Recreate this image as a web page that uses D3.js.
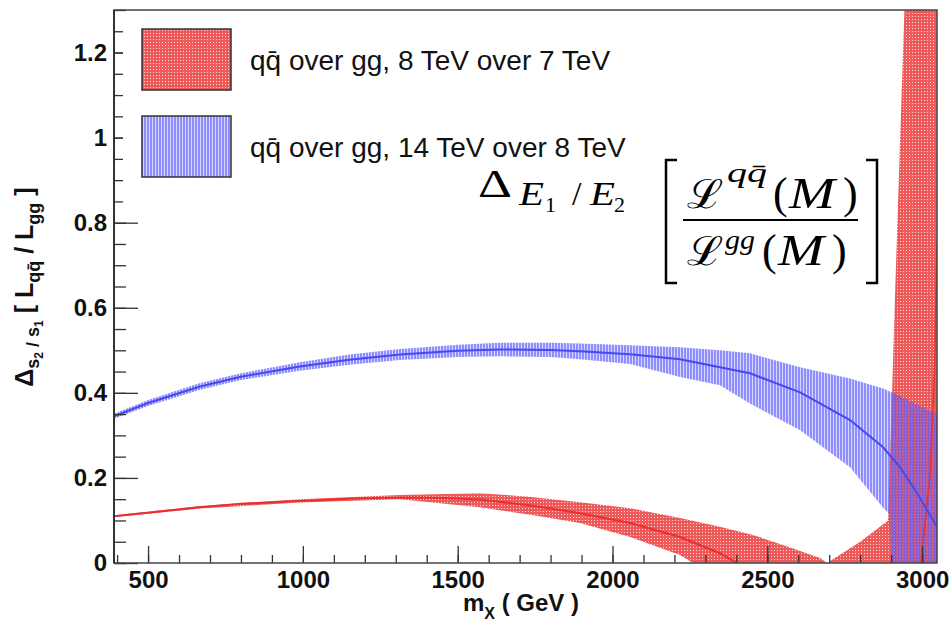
<!DOCTYPE html>
<html>
<head>
<meta charset="utf-8">
<script src="https://cdn.jsdelivr.net/npm/d3@7"></script>
<style>
  body { margin: 0; background: #fff; }
  svg { display: block; }
  text { font-family: "Liberation Sans", Arial, Helvetica, sans-serif; }
</style>
</head>
<body>
<svg id="chart"></svg>
<script>
// ---- data (mass in GeV, ratio values) ----
var blueMass    = [390, 500, 668, 800, 990, 1150, 1314, 1500, 1637, 1800, 1895, 2057, 2218, 2347, 2444, 2606, 2767, 2874, 2929, 2984, 3048]
var blueCentral = [0.345, 0.376, 0.415, 0.438, 0.462, 0.478, 0.490, 0.499, 0.502, 0.501, 0.498, 0.491, 0.479, 0.460, 0.446, 0.401, 0.336, 0.272, 0.225, 0.164, 0.085]
var blueUpper   = [0.351, 0.383, 0.423, 0.446, 0.472, 0.490, 0.503, 0.513, 0.518, 0.518, 0.516, 0.512, 0.507, 0.500, 0.493, 0.460, 0.434, 0.410, 0.392, 0.372, 0.350]
var blueLowerMass = [390, 500, 668, 800, 990, 1150, 1314, 1500, 1637, 1800, 1895, 2057, 2218, 2347, 2444, 2606, 2767, 2874, 2893, 2900, 3048]
var blueLower     = [0.339, 0.369, 0.407, 0.430, 0.452, 0.466, 0.477, 0.484, 0.486, 0.484, 0.479, 0.468, 0.437, 0.418, 0.375, 0.312, 0.225, 0.130, 0.115, 0.0, 0.0]

var redMass    = [390, 500, 668, 800, 990, 1150, 1314, 1450, 1572, 1730, 1895, 2057, 2218, 2347, 2402]
var redCentral = [0.110, 0.118, 0.131, 0.139, 0.146, 0.151, 0.154, 0.153, 0.149, 0.136, 0.117, 0.094, 0.061, 0.023, 0.0]
var redTailMass = [2995, 3025, 3040, 3048]
var redTail     = [0.0, 0.20, 0.45, 0.75]
var redUpperMass = [390, 668, 990, 1314, 1572, 1730, 1895, 2057, 2218, 2347, 2454, 2560, 2670, 2693, 2800, 2890, 2903, 2912, 2945, 3048]
var redUpper     = [0.112, 0.134, 0.150, 0.160, 0.164, 0.156, 0.143, 0.129, 0.106, 0.085, 0.066, 0.040, 0.012, 0.0, 0.05, 0.10, 0.40, 0.62, 1.35, 1.40]
var redLowerMass = [390, 668, 990, 1314, 1572, 1730, 1895, 2057, 2218, 2260, 3048]
var redLower     = [0.108, 0.128, 0.142, 0.150, 0.131, 0.114, 0.094, 0.061, 0.019, 0.0, 0.0]

var xMajorTicks = [500, 1000, 1500, 2000, 2500, 3000]
var yMajorTicks = [0, 0.2, 0.4, 0.6, 0.8, 1, 1.2]
var legendLabels = ['q\u0071\u0304 over gg, 8 TeV over 7 TeV', 'q\u0071\u0304 over gg, 14 TeV over 8 TeV']

var outerWidth = 950, outerHeight = 623
var margins = {top: 10, right: 13, bottom: 60, left: 114}
var innerWidth = outerWidth - margins.left - margins.right
var innerHeight = outerHeight - margins.top - margins.bottom

var svg = d3.select('svg#chart')
    .attr('width', outerWidth)
    .attr('height', outerHeight)

var defs = svg.append('defs')

// red dotted fill
var redPat = defs.append('pattern')
    .attr('id', 'redDots')
    .attr('patternUnits', 'userSpaceOnUse')
    .attr('width', 3).attr('height', 3)
redPat.append('rect').attr('width', 3).attr('height', 3).attr('fill', '#ee5a5a')
redPat.append('rect').attr('width', 1).attr('height', 1).attr('fill', '#fff').attr('opacity', 0.75)

// blue vertical hatch, semi transparent so red shows through as purple
var bluePat = defs.append('pattern')
    .attr('id', 'blueHatch')
    .attr('patternUnits', 'userSpaceOnUse')
    .attr('width', 3).attr('height', 3)
bluePat.append('rect').attr('width', 3).attr('height', 3).attr('fill', 'rgba(90,90,255,0.25)')
bluePat.append('rect').attr('width', 2).attr('height', 3).attr('fill', 'rgba(90,90,255,0.58)')

defs.append('clipPath').attr('id', 'plotClip')
    .append('rect').attr('width', innerWidth).attr('height', innerHeight)

var plot = svg.append('g')
    .attr('transform', 'translate(' + margins.left + ',' + margins.top + ')')

var xScale = d3.scaleLinear().domain([390, 3048]).range([0, innerWidth])
var yScale = d3.scaleLinear().domain([0, 1.3]).range([innerHeight, 0])

function zipPts(xs, ys) { return xs.map(function(x, i) { return [x, ys[i]] }) }

var line = d3.line()
    .x(function(d) { return xScale(d[0]) })
    .y(function(d) { return yScale(d[1]) })

function bandPath(upX, upY, loX, loY) {
    var pts = zipPts(upX, upY).concat(zipPts(loX, loY).reverse())
    return line(pts) + 'Z'
}

var marks = plot.append('g').attr('clip-path', 'url(#plotClip)')

marks.append('path')
    .attr('d', bandPath(redUpperMass, redUpper, redLowerMass, redLower))
    .attr('fill', 'url(#redDots)')

marks.append('path')
    .attr('d', bandPath(blueMass, blueUpper, blueLowerMass, blueLower))
    .attr('fill', 'url(#blueHatch)')

marks.append('path')
    .attr('d', line(zipPts(redMass, redCentral)))
    .attr('fill', 'none').attr('stroke', '#e83030').attr('stroke-width', 2)
marks.append('path')
    .attr('d', line(zipPts(redTailMass, redTail)))
    .attr('fill', 'none').attr('stroke', '#e83030').attr('stroke-width', 1.5)
marks.append('path')
    .attr('d', line(zipPts(blueMass, blueCentral)))
    .attr('fill', 'none').attr('stroke', '#4848f0').attr('stroke-width', 2)

// ---- axes (ticks pointing inward) ----
var yMinor = plot.append('g')
    .call(d3.axisLeft(yScale).tickValues(d3.range(0, 1.3001, 0.05)).tickSize(-12).tickFormat(''))
var yMajor = plot.append('g')
    .call(d3.axisLeft(yScale).tickValues(yMajorTicks).tickSize(-24).tickPadding(7)
        .tickFormat(function(d) { return d === 0 ? '0' : d === 1 ? '1' : d3.format('.1f')(d) }))
var xMinor = plot.append('g')
    .attr('transform', 'translate(0,' + innerHeight + ')')
    .call(d3.axisBottom(xScale).tickValues(d3.range(400, 3001, 100)).tickSize(-8).tickFormat(''))
var xMajor = plot.append('g')
    .attr('transform', 'translate(0,' + innerHeight + ')')
    .call(d3.axisBottom(xScale).tickValues(xMajorTicks).tickSize(-17).tickPadding(8).tickFormat(d3.format('d')))

;[yMinor, yMajor, xMinor, xMajor].forEach(function(g) {
    g.select('.domain').remove()
    g.selectAll('line').attr('stroke', '#333').attr('stroke-width', 1.3)
    g.selectAll('text').attr('font-size', 24).attr('font-weight', 'bold').attr('fill', '#111')
        .style('font-family', '"Liberation Sans", Arial, sans-serif')
})

// ---- legend (white box covers the upper tick ends) ----
var legend = svg.append('g')
legend.append('rect')
    .attr('x', 123).attr('y', 12).attr('width', 530).attr('height', 196)
    .attr('fill', '#fff')
var legendFills = ['url(#redDots)', 'url(#blueHatch)']
legendLabels.forEach(function(lbl, i) {
    legend.append('rect')
        .attr('x', 142).attr('y', 29 + i * 87).attr('width', 89).attr('height', 61)
        .attr('fill', legendFills[i]).attr('stroke', '#333').attr('stroke-width', 1.5)
    legend.append('text')
        .attr('x', 250).attr('y', 70 + i * 87)
        .attr('font-size', 28).attr('fill', '#111')
        .text(lbl)
})

// frame
plot.append('rect')
    .attr('width', innerWidth).attr('height', innerHeight)
    .attr('fill', 'none').attr('stroke', '#444').attr('stroke-width', 1.5)
plot.append('line')
    .attr('x1', 0).attr('x2', 0).attr('y1', 0).attr('y2', innerHeight)
    .attr('stroke', '#333').attr('stroke-width', 2)

// rich text helper: pieces of [text, size, baseline shift]
function richText(sel, pieces) {
    var prev = 0
    pieces.forEach(function(p) {
        sel.append('tspan')
            .attr('font-size', p[1])
            .attr('dy', p[2] - prev)
            .text(p[0])
        prev = p[2]
    })
}

// axis titles
var xTitle = svg.append('text')
    .attr('x', 463).attr('y', 611)
    .attr('font-weight', 'bold').attr('fill', '#111')
richText(xTitle, [['m', 24, 0], ['X', 16, 8], [' ( GeV )', 24, 0]])

var yTitle = svg.append('text')
    .attr('transform', 'translate(33,287) rotate(-90)')
    .attr('text-anchor', 'middle')
    .attr('font-weight', 'bold').attr('fill', '#111')
richText(yTitle, [
    ['\u0394', 25, 0], ['s', 18, 6], ['2', 12, 10], [' / ', 18, 6], ['s', 18, 6], ['1', 12, 10],
    [' [ L', 25, 0], ['q\u0071\u0304', 18, 7], [' / L', 25, 0], ['gg', 18, 7], [' ]', 25, 0]
])

// ---- formula annotation ----
var fml = svg.append('g').attr('fill', '#000')
function mathPiece(x, y, size, txt, width, italic, family) {
    var t = fml.append('text')
        .attr('x', x).attr('y', y)
        .attr('font-size', size)
        .attr('font-style', italic ? 'italic' : 'normal')
        .style('font-family', family || '"Liberation Serif", "DejaVu Serif", serif')
        .text(txt)
    if (width) t.attr('textLength', width).attr('lengthAdjust', 'spacingAndGlyphs')
}
mathPiece(478, 197, 41, '\u0394', 34, false)
mathPiece(519, 205, 34, 'E', 25, true)
mathPiece(545, 212, 22, '1', null, false)
mathPiece(572, 205, 34, '/', null, false)
mathPiece(590, 205, 34, 'E', 25, true)
mathPiece(614, 212, 22, '2', null, false)

mathPiece(687, 208, 40, '\u2112', 36, false, '"DejaVu Serif", serif')
mathPiece(727, 182, 27, 'q\u0071\u0304', 40, true)
mathPiece(773, 208, 44, '(', null, false)
mathPiece(789, 208, 44, 'M', 46, true)
mathPiece(843, 208, 44, ')', null, false)

mathPiece(687, 265, 40, '\u2112', 36, false, '"DejaVu Serif", serif')
mathPiece(725, 249, 27, 'gg', 30, true)
mathPiece(762, 265, 44, '(', null, false)
mathPiece(778, 265, 44, 'M', 46, true)
mathPiece(832, 265, 44, ')', null, false)

fml.append('line').attr('x1', 683).attr('x2', 858).attr('y1', 220).attr('y2', 220)
    .attr('stroke', '#000').attr('stroke-width', 2)
fml.append('path').attr('d', 'M677,160 H666 V283 H677')
    .attr('fill', 'none').attr('stroke', '#000').attr('stroke-width', 2.5)
fml.append('path').attr('d', 'M866,160 H877 V283 H866')
    .attr('fill', 'none').attr('stroke', '#000').attr('stroke-width', 2.5)
</script>
</body>
</html>
